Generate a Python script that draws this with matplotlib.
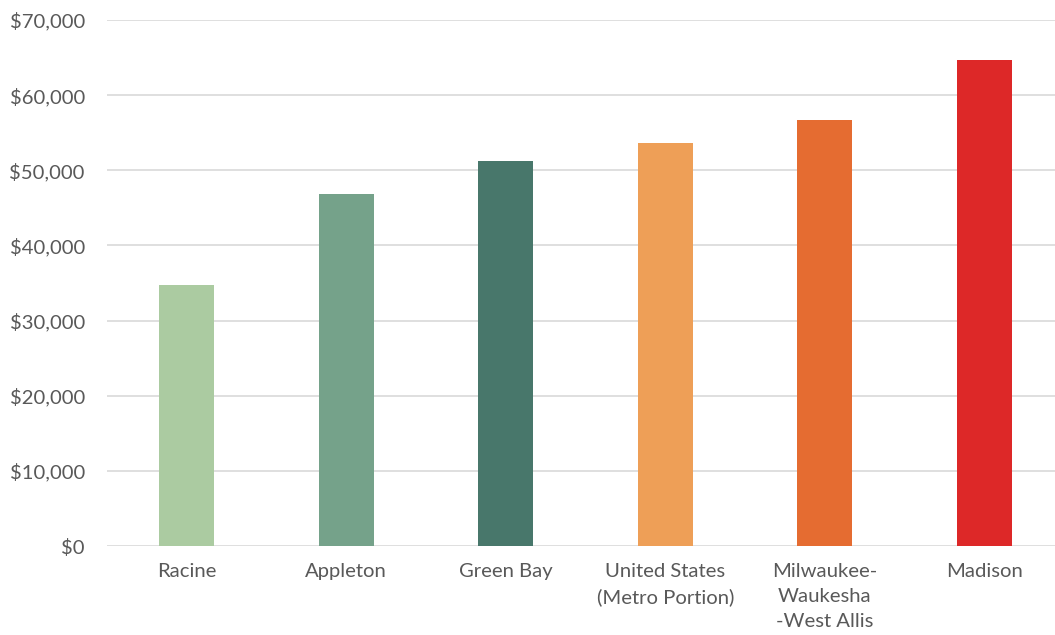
import matplotlib
matplotlib.use("Agg")
import matplotlib.pyplot as plt
from matplotlib.ticker import FuncFormatter

categories = ["Racine", "Appleton", "Green Bay", "United States\n(Metro Portion)",
              "Milwaukee-\nWaukesha\n-West Allis", "Madison"]
values = [34800, 46800, 51200, 53600, 56700, 64700]
colors = ["#ABCBA1", "#75A28A", "#48776B", "#EE9F57", "#E56C31", "#DD2828"]
yticks = [0, 10000, 20000, 30000, 40000, 50000, 60000, 70000]

plt.rcParams['font.family'] = ['Lato', 'DejaVu Sans']

fig = plt.figure(figsize=(10.55, 6.35), dpi=100)
ax = fig.add_axes([107/1055, 1 - 546/635, (1064-107)/1055, (546-20)/635])

x = list(range(len(categories)))
ax.bar(x, values, width=0.345, color=colors, zorder=3)
ax.set_xlim(-0.5, len(categories) - 0.5)
ax.set_ylim(0, 70000)
ax.set_yticks(yticks)
ax.yaxis.set_major_formatter(FuncFormatter(lambda v, p: "${:,.0f}".format(v)))
ax.set_xticks(x)
ax.set_xticklabels(categories, linespacing=1.58)
ax.tick_params(axis='both', length=0, labelsize=14.6, colors="#595959")
ax.tick_params(axis='x', pad=12)
ax.tick_params(axis='y', pad=16)
ax.grid(axis='y', color="#D9D9D9", linewidth=1.2, zorder=0)
for s in ax.spines.values():
    s.set_visible(False)

fig.savefig("out.png", dpi=100)
